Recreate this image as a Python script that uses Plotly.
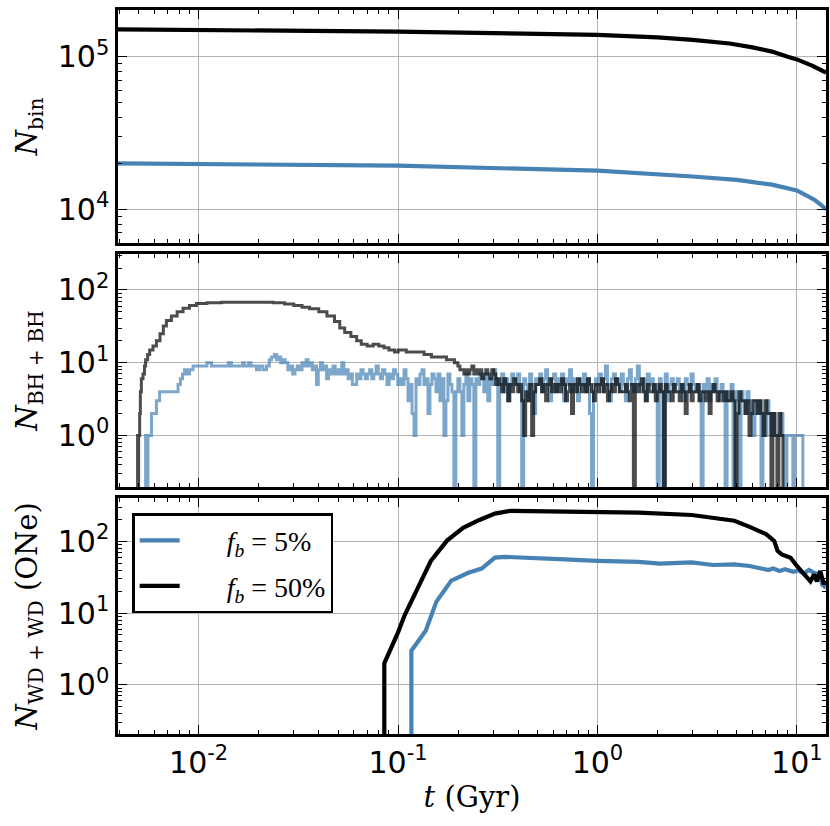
import numpy as np
import plotly.graph_objects as go

BLUE = "#4682b4"
BLACK = "#000000"

# ---------------- Panel 1: N_bin ----------------
bin_t_50 = [0.0039, 0.01, 0.1, 1.0, 2.0, 3.0, 4.6, 6.0, 7.5, 9.0, 10.0, 12.0, 14.0]
bin_n_50 = [1.51e5, 1.50e5, 1.46e5, 1.39e5, 1.34e5, 1.29e5, 1.22e5, 1.15e5, 1.08e5, 1.00e5, 9.6e4, 8.7e4, 7.85e4]
bin_t_5 = [0.0039, 0.01, 0.1, 1.0, 2.0, 3.0, 5.0, 7.5, 10.0, 12.3, 13.3, 14.0]
bin_n_5 = [2.0e4, 1.98e4, 1.93e4, 1.79e4, 1.71e4, 1.64e4, 1.56e4, 1.45e4, 1.33e4, 1.15e4, 1.06e4, 1.0e4]

# ---------------- Panel 2: N_BH+BH ----------------
# f_b = 50%, early smooth part
bh50_t0 = [0.00490, 0.00494, 0.00497, 0.00500, 0.00503, 0.00506, 0.00510, 0.00516, 0.00526, 0.00535,
           0.00542, 0.00555, 0.00568, 0.00590, 0.00614, 0.00640, 0.00665, 0.00689, 0.00730, 0.00780,
           0.00835, 0.00900, 0.00974, 0.0110, 0.0130, 0.0160, 0.0200, 0.0236, 0.0270, 0.0300,
           0.0330, 0.0360, 0.0400, 0.0440, 0.0480, 0.0510, 0.0540, 0.0580, 0.0620, 0.0654,
           0.0700, 0.0750, 0.0800, 0.0850, 0.0900, 0.0960, 0.1000, 0.1100, 0.1210, 0.1350,
           0.1470, 0.1600, 0.1750, 0.1920]
bh50_n0 = [0, 1, 0, 1, 1, 2, 4, 6, 7, 9,
           11, 13, 15, 17, 20, 25, 32, 38, 44, 50,
           56, 61, 65, 67, 68, 68, 68, 67, 64, 61,
           58, 55, 50, 44, 37, 30, 26, 23, 20, 18,
           17, 18, 17, 16, 15, 14, 15, 14, 14, 13,
           12, 12, 11, 10]

# f_b = 5%, early part
bh5_t0 = [0.00540, 0.00542, 0.00550, 0.00557, 0.00580, 0.00614, 0.00637, 0.00788, 0.00810, 0.00830,
          0.00850, 0.00880, 0.00900, 0.00937, 0.0110, 0.0116, 0.0141, 0.0146, 0.0166, 0.0170,
          0.0178, 0.0183, 0.0195, 0.0202, 0.0210, 0.0219, 0.0226, 0.0232, 0.0240, 0.0246,
          0.0252, 0.0258, 0.0265, 0.0272, 0.0280, 0.0288, 0.0296, 0.0304, 0.0312, 0.0320,
          0.0330, 0.0338, 0.0346, 0.0354, 0.0362, 0.0372, 0.0382, 0.0390, 0.0398, 0.0408,
          0.0418, 0.0428, 0.0438, 0.0448, 0.0460, 0.0472, 0.0484, 0.0496, 0.0508, 0.0522,
          0.0535, 0.0548, 0.0562, 0.0576, 0.0590, 0.0604, 0.0620, 0.0636, 0.0652, 0.0668,
          0.0685, 0.0702, 0.0720, 0.0738, 0.0756, 0.0776, 0.0796, 0.0816, 0.0836, 0.0858,
          0.0880, 0.0902, 0.0924, 0.0948, 0.0972, 0.0996, 0.1020, 0.1047, 0.1072, 0.1096,
          0.1122, 0.1148, 0.1175, 0.1202, 0.1230, 0.1259, 0.1288, 0.1318, 0.1349, 0.1380,
          0.1413, 0.1445, 0.1479, 0.1514, 0.1549, 0.1585, 0.1622, 0.1660, 0.1698, 0.1738,
          0.1778, 0.1820, 0.1862, 0.1905, 0.1950]
bh5_n0 = [0, 1, 0, 1, 2, 3, 4, 5, 6, 7,
          8, 7, 8, 9, 10, 9, 10, 9, 10, 9,
          10, 9, 8, 9, 8, 9, 11, 12, 13, 11,
          12, 10, 11, 10, 8, 9, 7, 8, 9, 8,
          10, 9, 11, 9, 10, 8, 9, 5, 8, 10,
          8, 9, 6, 8, 7, 9, 7, 8, 7, 10,
          7, 8, 6, 7, 5, 5, 7, 6, 8, 7,
          6, 7, 8, 6, 7, 9, 7, 6, 8, 7,
          5, 7, 6, 8, 7, 5, 6, 5, 8, 6,
          3, 5, 2, 1, 6, 5, 7, 8, 5, 6,
          2, 5, 7, 6, 4, 7, 3, 6, 1, 3,
          7, 5, 4, 0, 4]

# common time grid for the noisy late part (Gyr)
t_noise = [0.1995, 0.2042, 0.2089, 0.2138, 0.2188, 0.2239, 0.2291, 0.2344, 0.2399, 0.2455,
           0.2512, 0.2570, 0.2630, 0.2692, 0.2754, 0.2818, 0.2884, 0.2951, 0.3020, 0.3090,
           0.3162, 0.3236, 0.3311, 0.3388, 0.3467, 0.3548, 0.3631, 0.3715, 0.3802, 0.3890,
           0.3981, 0.4074, 0.4169, 0.4266, 0.4365, 0.4467, 0.4571, 0.4677, 0.4786, 0.4898,
           0.5012, 0.5129, 0.5248, 0.5370, 0.5495, 0.5623, 0.5754, 0.5888, 0.6026, 0.6166,
           0.6310, 0.6457, 0.6607, 0.6761, 0.6918, 0.7079, 0.7244, 0.7413, 0.7586, 0.7762,
           0.7943, 0.8128, 0.8318, 0.8511, 0.8710, 0.8913, 0.9120, 0.9333, 0.9550, 0.9772,
           1.000, 1.023, 1.047, 1.072, 1.096, 1.122, 1.148, 1.175, 1.202, 1.230,
           1.259, 1.288, 1.318, 1.349, 1.380, 1.413, 1.445, 1.479, 1.514, 1.549,
           1.585, 1.622, 1.660, 1.698, 1.738, 1.778, 1.820, 1.862, 1.905, 1.950,
           1.995, 2.042, 2.089, 2.138, 2.188, 2.239, 2.291, 2.344, 2.399, 2.455,
           2.512, 2.570, 2.630, 2.692, 2.754, 2.818, 2.884, 2.951, 3.020, 3.090,
           3.162, 3.236, 3.311, 3.388, 3.467, 3.548, 3.631, 3.715, 3.802, 3.890,
           3.981, 4.074, 4.169, 4.266, 4.365, 4.467, 4.571, 4.677, 4.786, 4.898,
           5.012, 5.129, 5.248, 5.370, 5.495, 5.623, 5.754, 5.888, 6.026, 6.166,
           6.310, 6.457, 6.607, 6.761, 6.918, 7.079, 7.244, 7.413, 7.586, 7.762,
           7.943, 8.128, 8.318, 8.511, 8.710, 8.913, 9.120, 9.333, 9.550, 9.772,
           10.00, 10.23, 10.47, 10.72, 10.96, 11.22, 11.48, 11.75]

bh50_noise = [9, 8, 8, 7, 8, 7, 8, 9, 7, 8,
              7, 8, 6, 7, 8, 7, 6, 8, 7, 5,
              6, 5, 4, 6, 5, 3, 5, 4, 6, 5,
              4, 5, 3, 1, 4, 3, 5, 1, 4, 5,
              5, 6, 4, 5, 3, 5, 6, 4, 5, 4,
              5, 4, 6, 5, 3, 4, 5, 2, 5, 4,
              6, 5, 4, 5, 4, 6, 5, 4, 3, 5,
              4, 5, 6, 4, 5, 3, 4, 5, 4, 6,
              5, 4, 4, 4, 5, 4, 3, 5, 0, 5,
              4, 5, 6, 4, 3, 5, 4, 4, 5, 3,
              4, 5, 4, 0, 5, 4, 4, 3, 5, 4,
              4, 3, 5, 4, 2, 4, 5, 3, 4, 4,
              5, 3, 4, 4, 3, 4, 2, 4, 5, 4,
              3, 4, 4, 3, 4, 3, 3, 4, 3, 0,
              2, 4, 3, 3, 2, 3, 1, 2, 3, 3,
              2, 3, 2, 1, 3, 2, 2, 0, 2, 1,
              0, 2, 1, 0, 0, 0, 0, 0, 0, 0,
              0, 0, 0, 0, 0, 0, 0, 0]

bh5_noise = [6, 4, 1, 5, 7, 3, 6, 5, 0, 6,
             5, 7, 6, 4, 7, 3, 6, 5, 8, 6,
             0, 5, 7, 4, 6, 3, 5, 7, 6, 5,
             7, 4, 0, 6, 5, 3, 7, 5, 2, 6,
             5, 7, 4, 6, 8, 5, 3, 6, 7, 4,
             6, 5, 7, 3, 6, 5, 8, 4, 6, 5,
             3, 6, 5, 7, 4, 6, 2, 0, 5, 6,
             5, 7, 4, 6, 9, 5, 3, 6, 7, 5,
             6, 4, 7, 5, 3, 6, 8, 5, 4, 6,
             9, 5, 4, 6, 3, 7, 5, 6, 4, 5,
             0, 6, 4, 0, 7, 3, 5, 6, 4, 5,
             6, 4, 5, 3, 6, 5, 4, 7, 5, 4,
             5, 3, 0, 5, 4, 6, 3, 5, 4, 6,
             4, 3, 5, 4, 0, 4, 3, 5, 0, 4,
             3, 0, 4, 3, 2, 4, 3, 2, 1, 3,
             2, 3, 0, 2, 1, 3, 2, 1, 2, 1,
             1, 1, 2, 1, 0, 1, 1, 1, 0, 1,
             1, 1, 1, 0, 0, 0, 0, 0]

# ---------------- Panel 3: N_WD+WD (ONe) ----------------
wd_t_50 = [0.0853, 0.0853, 0.100, 0.108, 0.1255, 0.146, 0.176, 0.212, 0.254, 0.306,
           0.368, 0.47, 1.0, 1.61, 2.97, 4.04, 4.86, 5.8, 7.0, 7.7,
           8.0, 8.4, 9.3, 10.0, 10.5, 11.2, 11.7, 12.2, 12.6, 13.1, 13.6, 14.0]
wd_n_50 = [0, 2, 5.4, 9.4, 22.4, 53.5, 103, 155, 198, 245,
           268, 265, 260, 253, 234, 210, 195, 160, 127, 102,
           74, 66, 59.5, 45.5, 38.8, 32.8, 27.8, 34.6, 27.8, 38.8, 26.4, 26.4]
wd_t_5 = [0.1166, 0.1166, 0.1376, 0.1557, 0.1849, 0.2251, 0.2625, 0.306, 0.345, 0.47,
          0.64, 1.0, 1.61, 2.05, 2.97, 3.8, 4.86, 5.8, 6.6, 7.2,
          7.6, 8.2, 8.7, 9.6, 10.2, 10.8, 11.5, 12.2, 13.0, 13.4, 14.0]
wd_n_5 = [0, 3, 5.7, 14.5, 28.5, 36.6, 42, 59.6, 61, 58,
          56.8, 53.7, 52, 49, 51, 47, 48, 45.5, 42, 40,
          42, 38.8, 41, 37.8, 39.6, 35.5, 40, 36.6, 34.6, 25, 22.6]

# tick labels
x_ticks = [0.01, 0.1, 1, 10]
x_ticktext = ["10<sup>-2</sup>", "10<sup>-1</sup>", "10<sup>0</sup>", "10<sup>1</sup>"]
y1_ticks = [1e4, 1e5]
y1_ticktext = ["10<sup>4</sup>", "10<sup>5</sup>"]
y23_ticks = [1, 10, 100]
y23_ticktext = ["10<sup>0</sup>", "10<sup>1</sup>", "10<sup>2</sup>"]

FLOOR = 1e-3  # zero counts drawn below the log axis (clipped), like matplotlib


def floor0(v):
    a = np.asarray(v, dtype=float)
    return np.where(a <= 0, FLOOR, a)


def minor_vals(lo_exp, hi_exp):
    out = []
    for e in range(lo_exp, hi_exp + 1):
        for d in range(2, 10):
            out.append(d * 10.0 ** e)
    return out


fig = go.Figure()

# panel 1
fig.add_trace(go.Scatter(x=bin_t_5, y=bin_n_5, mode="lines", line=dict(color=BLUE, width=4.2),
                         xaxis="x", yaxis="y", showlegend=False))
fig.add_trace(go.Scatter(x=bin_t_50, y=bin_n_50, mode="lines", line=dict(color=BLACK, width=4.2),
                         xaxis="x", yaxis="y", showlegend=False))

# panel 2
bh5_t = list(bh5_t0) + list(t_noise)
bh5_n = list(bh5_n0) + list(bh5_noise)
bh50_t = list(bh50_t0) + list(t_noise)
bh50_n = list(bh50_n0) + list(bh50_noise)
fig.add_trace(go.Scatter(x=bh5_t, y=floor0(bh5_n), mode="lines",
                         line=dict(color="rgba(70,130,180,0.7)", width=3, shape="hv"),
                         xaxis="x2", yaxis="y2", showlegend=False))
fig.add_trace(go.Scatter(x=bh50_t, y=floor0(bh50_n), mode="lines",
                         line=dict(color="rgba(0,0,0,0.7)", width=3, shape="hv"),
                         xaxis="x2", yaxis="y2", showlegend=False))

# panel 3
PAD = "&nbsp;" * 6
fig.add_trace(go.Scatter(x=wd_t_5, y=floor0(wd_n_5), mode="lines", line=dict(color=BLUE, width=4.2),
                         xaxis="x3", yaxis="y3", legendgroup="a",
                         name=PAD + "<i>f<sub>b</sub></i> = 5%"))
fig.add_trace(go.Scatter(x=wd_t_50, y=floor0(wd_n_50), mode="lines", line=dict(color=BLACK, width=4.2),
                         xaxis="x3", yaxis="y3", legendgroup="b",
                         name=PAD + "<i>f<sub>b</sub></i> = 50%"))

TICKFONT = dict(family="DejaVu Sans", size=30, color="black")
TITLEFONT = dict(family="DejaVu Serif", size=29, color="black")
GRID = "#b4b4b4"

xr = [np.log10(0.00394), np.log10(14.0)]


def xaxis_cfg(anchor, show_labels):
    d = dict(type="log", range=xr, anchor=anchor, showline=True, linecolor="black", linewidth=2.5,
             mirror="allticks", ticks="inside", ticklen=9, tickwidth=1.2, tickcolor="black",
             tickmode="array", tickvals=x_ticks, ticktext=x_ticktext,
             showticklabels=show_labels, tickfont=TICKFONT,
             showgrid=True, gridcolor=GRID, gridwidth=1, zeroline=False,
             minor=dict(tickmode="array", tickvals=minor_vals(-3, 1), ticks="inside", ticklen=4.5,
                        tickwidth=1, tickcolor="black", showgrid=False))
    return d


def yaxis_cfg(anchor, domain, rng, tv, tt, minor, title):
    return dict(type="log", range=rng, domain=domain, anchor=anchor, showline=True, linecolor="black",
                linewidth=2.5, mirror="allticks", ticks="inside", ticklen=9, tickwidth=1.2, tickcolor="black",
                tickmode="array", tickvals=tv, ticktext=tt, tickfont=TICKFONT,
                showgrid=True, gridcolor=GRID, gridwidth=1, zeroline=False,
                minor=dict(tickmode="array", tickvals=minor, ticks="inside", ticklen=4.5,
                           tickwidth=1, tickcolor="black", showgrid=False),
                title=dict(text=title, font=TITLEFONT, standoff=12))


fig.update_layout(
    width=830, height=826,
    margin=dict(l=118, r=4, t=10, b=92, autoexpand=False),
    paper_bgcolor="white", plot_bgcolor="white",
    xaxis=xaxis_cfg("y", False),
    xaxis2=xaxis_cfg("y2", False),
    xaxis3=dict(xaxis_cfg("y3", True),
                title=dict(text="<i>t</i> (Gyr)", font=TITLEFONT, standoff=4)),
    yaxis=yaxis_cfg("x", [0.6782, 1.0], [3.779, 5.306], y1_ticks, y1_ticktext, minor_vals(3, 5),
                    "<i>N</i><sub>bin</sub>"),
    yaxis2=yaxis_cfg("x2", [0.3412, 0.6630], [-0.709, 2.495], y23_ticks, y23_ticktext, minor_vals(-1, 2),
                     "<i>N</i><sub>BH + BH</sub>"),
    yaxis3=yaxis_cfg("x3", [0.0, 0.3260], [-0.685, 2.607], y23_ticks, y23_ticktext, minor_vals(-1, 2),
                     "<i>N</i><sub>WD + WD</sub> (ONe)"),
    legend=dict(x=0.02, y=0.305, xanchor="left", yanchor="top", bgcolor="white",
                bordercolor="black", borderwidth=2.5,
                font=dict(family="Liberation Serif", size=28, color="black"),
                itemwidth=40, tracegroupgap=6, traceorder="grouped"),
    showlegend=True,
)

fig.write_html("out.html", config={"displayModeBar": False},
               post_script="document.body.style.margin='0px';")
